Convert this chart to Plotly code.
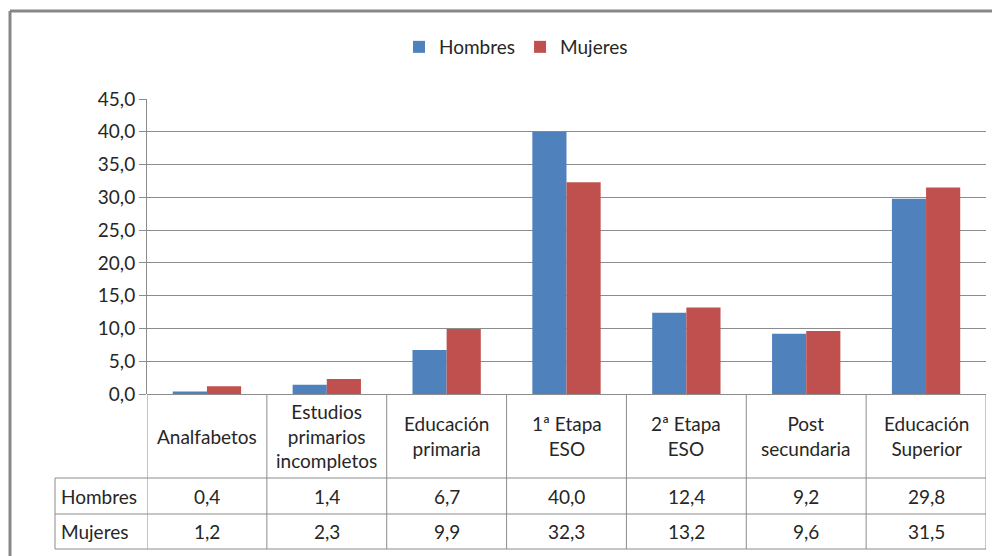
import plotly.graph_objects as go

categories = ["Analfabetos", "Estudios<br>primarios<br>incompletos", "Educación<br>primaria",
              "1ª Etapa<br>ESO", "2ª Etapa<br>ESO", "Post<br>secundaria", "Educación<br>Superior"]
hombres = [0.4, 1.4, 6.7, 40.0, 12.4, 9.2, 29.8]
mujeres = [1.2, 2.3, 9.9, 32.3, 13.2, 9.6, 31.5]
series_names = ["Hombres", "Mujeres"]
y_ticks = [0, 5, 10, 15, 20, 25, 30, 35, 40, 45]

W, H = 1000, 556
OFF = 8  # page body margin offset
def py(p):
    return 1 - (p - OFF) / H
def px(p):
    return (p - OFF) / W

FONT = "Lato"
FS = 19
GRAY = "#8c8c8c"
TXT = "#262626"
colors = ["#4F81BD", "#C0504D"]

x_idx = list(range(len(categories)))
fig = go.Figure()
for name, vals, c in zip(series_names, [hombres, mujeres], colors):
    fig.add_trace(go.Bar(x=x_idx, y=vals, name=name, marker=dict(color=c, line=dict(width=0))))

plot_left, plot_right = 147, 986
y_top, y_zero = 99, 394
row1, row2, row3 = 478, 514, 549
table_left = 55

shapes = []
# outer frame
shapes.append(dict(type="line", xref="paper", yref="paper", x0=px(10), x1=1.02, y0=py(11), y1=py(11),
                   line=dict(color="#878787", width=3)))
shapes.append(dict(type="line", xref="paper", yref="paper", x0=px(10), x1=px(10), y0=py(11), y1=-0.02,
                   line=dict(color="#878787", width=3)))
# vertical category boundaries in table
for i in range(len(categories) + 1):
    shapes.append(dict(type="line", xref="x", yref="paper", x0=i - 0.5, x1=i - 0.5,
                       y0=py(y_zero), y1=py(row3), line=dict(color=GRAY, width=1)))
# horizontal table lines
for r in [row1, row2, row3]:
    shapes.append(dict(type="line", xref="paper", yref="paper", x0=px(table_left), x1=px(plot_right),
                       y0=py(r), y1=py(r), line=dict(color=GRAY, width=1)))
shapes.append(dict(type="line", xref="paper", yref="paper", x0=px(table_left), x1=px(table_left),
                   y0=py(row1), y1=py(row3), line=dict(color=GRAY, width=1)))

annotations = []
for i, cat in enumerate(categories):
    annotations.append(dict(x=i, xref="x", y=py((y_zero + row1) / 2), yref="paper", text=cat,
                            showarrow=False, font=dict(family=FONT, size=FS, color=TXT),
                            xanchor="center", yanchor="middle", align="center"))
    for vals, (r0, r1) in zip([hombres, mujeres], [(row1, row2), (row2, row3)]):
        annotations.append(dict(x=i, xref="x", y=py((r0 + r1) / 2), yref="paper",
                                text=f"{vals[i]:.1f}".replace(".", ","), showarrow=False,
                                font=dict(family=FONT, size=FS, color=TXT),
                                xanchor="center", yanchor="middle"))
for name, (r0, r1) in zip(series_names, [(row1, row2), (row2, row3)]):
    annotations.append(dict(x=px(table_left + 4), xref="paper", y=py((r0 + r1) / 2), yref="paper",
                            text=name, showarrow=False, font=dict(family=FONT, size=FS, color=TXT),
                            xanchor="left", yanchor="middle"))

fig.update_layout(
    width=W, height=H,
    margin=dict(l=0, r=0, t=0, b=0, pad=0, autoexpand=False),
    paper_bgcolor="white", plot_bgcolor="white",
    separators=",.",
    barmode="group", bargap=0.43, bargroupgap=0,
    font=dict(family=FONT, size=FS, color=TXT),
    xaxis=dict(domain=[px(plot_left), px(plot_right)], range=[-0.5, len(categories) - 0.5],
               showticklabels=False, showgrid=False, zeroline=False, ticks="",
               showline=False, fixedrange=True, automargin=False),
    yaxis=dict(domain=[py(y_zero), py(y_top)], range=[0, 45], tickvals=y_ticks, tickformat=".1f",
               showgrid=True, gridcolor=GRAY, gridwidth=1, zeroline=True, zerolinecolor=GRAY,
               zerolinewidth=1, showline=True, linecolor=GRAY, linewidth=1, ticks="outside",
               ticklen=7, tickcolor=GRAY, tickfont=dict(family=FONT, size=FS, color=TXT),
               fixedrange=True, automargin=False),
    legend=dict(orientation="h", x=px(516), xanchor="center", y=py(47), yanchor="middle",
                font=dict(family=FONT, size=FS, color=TXT), itemwidth=30, tracegroupgap=0,
                bgcolor="rgba(0,0,0,0)"),
    shapes=shapes, annotations=annotations,
)
fig.write_html("out.html")
